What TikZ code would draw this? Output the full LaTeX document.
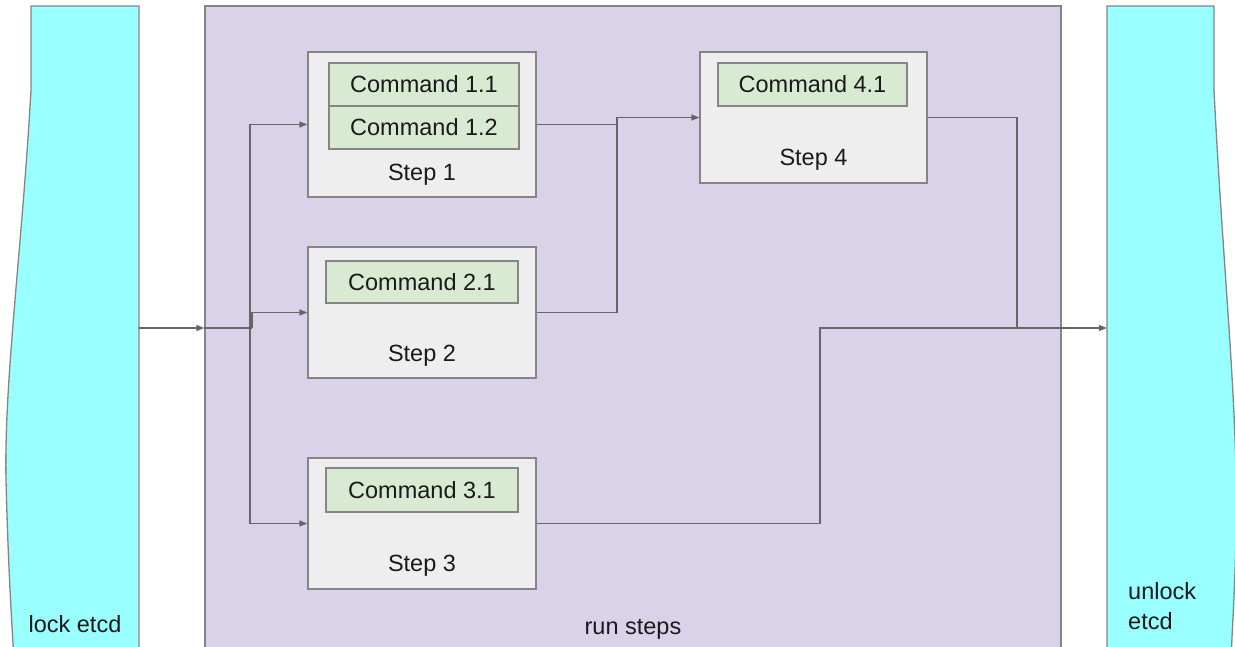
\documentclass[tikz,border=0pt]{standalone}
\usepackage{fontspec}
\setmainfont{Liberation Sans}
\usetikzlibrary{arrows.meta}
\definecolor{cyanf}{HTML}{99FFFF}
\definecolor{purplef}{HTML}{D9D2E9}
\definecolor{stepf}{HTML}{EEEEEE}
\definecolor{cmdf}{HTML}{D9EAD3}
\definecolor{edgec}{HTML}{858585}
\definecolor{connc}{HTML}{666666}
\definecolor{txtc}{HTML}{1A1A1A}
\begin{document}
\begin{tikzpicture}[x=1pt,y=-1pt,
  font=\fontsize{23.5}{30}\selectfont, text=txtc,
  shapeline/.style={draw=edgec, line width=1.3pt},
  stepbox/.style={shapeline, fill=stepf, inner sep=0pt, rectangle},
  cmdbox/.style={shapeline, fill=cmdf, inner sep=0pt, rectangle},
  conn/.style={draw=connc, line width=1.3pt},
  tip/.style={conn, -{Triangle[length=8pt,width=6pt]}, shorten >=0pt},
  lbl/.style={inner sep=0pt}
]
\useasboundingbox (0,0) rectangle (1235,647);
\clip (0,0) rectangle (1235,647);

% cyan side shapes
\path[shapeline, fill=cyanf] (139,6) -- (31,6) -- (31,90)
  .. controls (22,250) and (4,380) .. (6,480)
  .. controls (8,560) and (11,610) .. (14,660) -- (139,660) -- cycle;
\path[shapeline, fill=cyanf] (1107,6) -- (1214,6) -- (1214,90)
  .. controls (1222,250) and (1235,380) .. (1236,480)
  .. controls (1237,560) and (1233,610) .. (1231,660) -- (1107,660) -- cycle;
\coordinate (lockE) at (139,328);
\coordinate (unlockW) at (1107,328);
\node[lbl, anchor=base] (locklbl) at (75,632) {lock etcd};
\node[lbl, anchor=west, align=left] (unlocklbl) at (1128,606) {unlock\\etcd};

% run steps container
\node[shapeline, fill=purplef, rectangle, inner sep=0pt,
  minimum width=856pt, minimum height=694pt] (run) at (633,353) {};
\node[lbl, anchor=base] (runlbl) at (633,634) {run steps};

% steps
\node[stepbox, minimum width=228pt, minimum height=145pt] (s1) at (422,124.5) {};
\node[stepbox, minimum width=227pt, minimum height=131pt] (s4) at (813.5,117.5) {};
\node[stepbox, minimum width=228pt, minimum height=131pt] (s2) at (422,312.5) {};
\node[stepbox, minimum width=228pt, minimum height=131pt] (s3) at (422,523.5) {};

\node[cmdbox, minimum width=190pt, minimum height=43pt] (c11) at (424,84.5) {Command 1.1};
\node[cmdbox, minimum width=190pt, minimum height=43pt] (c12) at (424,127.5) {Command 1.2};
\node[cmdbox, minimum width=189pt, minimum height=43pt] (c41) at (812.5,84.5) {Command 4.1};
\node[cmdbox, minimum width=192pt, minimum height=42pt] (c21) at (422,282) {Command 2.1};
\node[cmdbox, minimum width=192pt, minimum height=44pt] (c31) at (422,490) {Command 3.1};

\node[lbl, anchor=base] (t1) at (422,181) {Step 1};
\node[lbl, anchor=base] (t4) at (813.5,166) {Step 4};
\node[lbl, anchor=base] (t2) at (422,361) {Step 2};
\node[lbl, anchor=base] (t3) at (422,571) {Step 3};

% connectors
\coordinate (split) at (250,328);
\coordinate (j2) at (252,328);
\coordinate (m) at (617,200);
\coordinate (n) at (1017,200);
\coordinate (p) at (820,400);

\draw[tip] (lockE) -- (run.west |- lockE);
\draw[conn] (run.west |- lockE) -- (j2);
\draw[tip] (split) |- (s1.west);
\draw[tip] (split) |- (s3.west);
\draw[tip] (j2) |- (s2.west);

\draw[tip] (s1.east) -- (s1.east -| m) -- (m |- s4.west) -- (s4.west);
\draw[conn] (s2.east) -| (m |- s4.west);

\draw[tip] (s4.east) -| (n |- unlockW) -- (unlockW);
\draw[conn] (s3.east) -| (p |- unlockW) -- (n |- unlockW);
\end{tikzpicture}
\end{document}
